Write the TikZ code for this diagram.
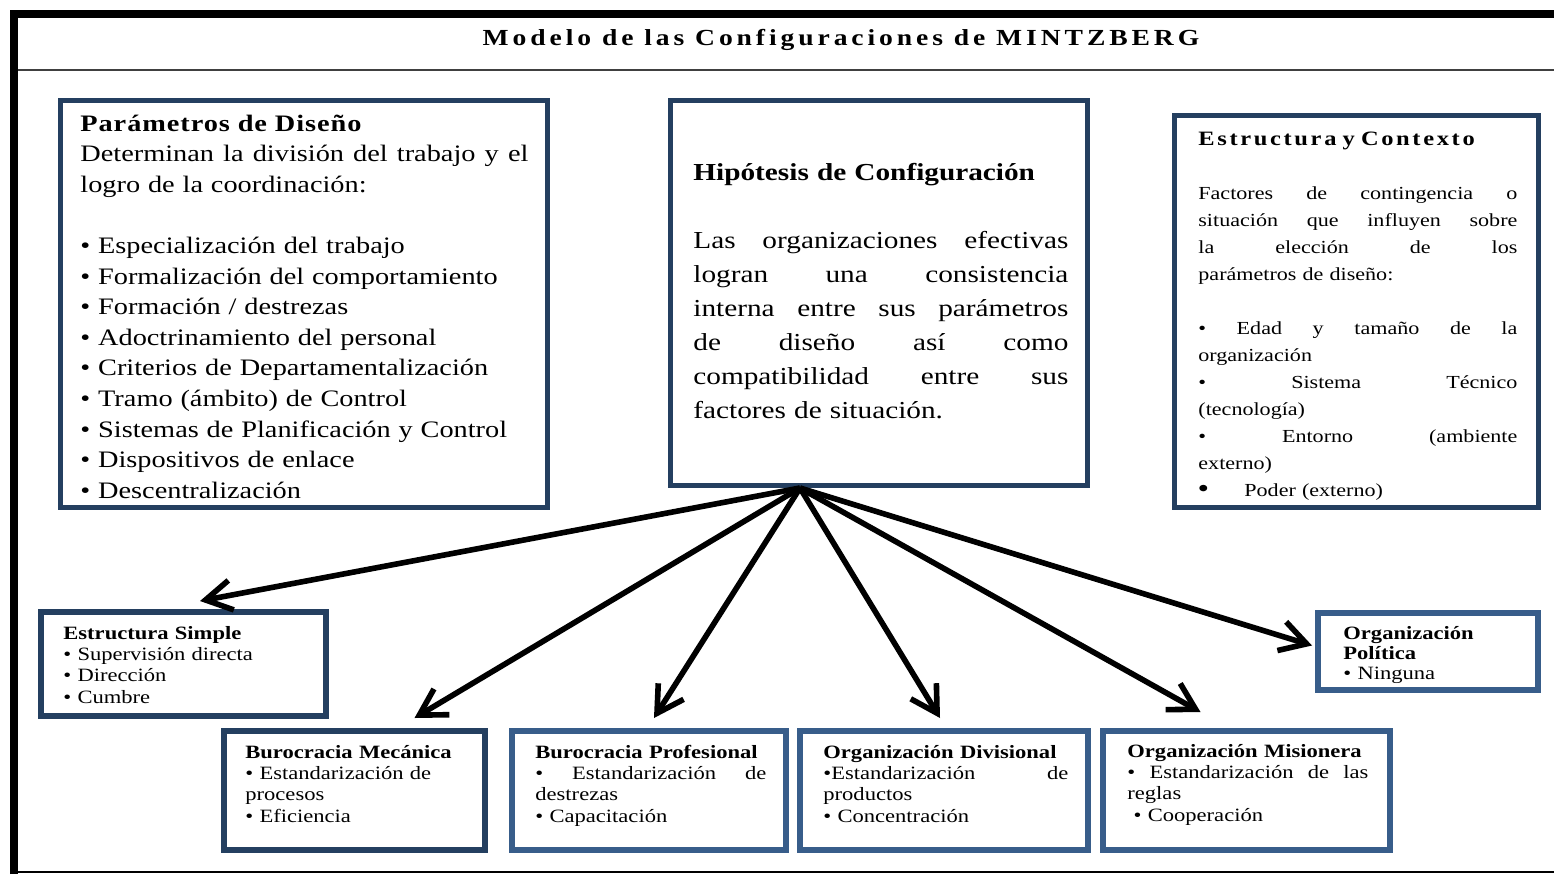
\documentclass[tikz,border=0pt]{standalone}
\usepackage{fontspec}
\setmainfont{Liberation Serif}[FakeStretch=1.2]
\usepackage{xcolor}
\usetikzlibrary{arrows.meta}
\definecolor{navy}{RGB}{36,63,96}
\definecolor{steel}{RGB}{56,93,138}

\begin{document}
\begin{tikzpicture}[x=0.5pt, y=-0.5pt,
	topbox/.style={draw=navy, line width=2.5pt},
	lowbox/.style={draw=#1, line width=3pt},
	txt/.style={anchor=base west, inner sep=0pt, align=left},
	flecha/.style={-{Straight Barb[length=13pt,width=15pt]}, line width=2.8pt}]
		\useasboundingbox (0,0) rectangle (1554,874);

		\draw[line width=4pt] (14,874) -- (14,14) -- (1554,14);
		\draw[line width=1pt, black!75] (18,70) -- (1554,70);
		\draw[line width=1.2pt] (18,872) -- (1554,872);
		\node[font=\fontsize{11.5}{14}\selectfont\bfseries\addfontfeature{LetterSpace=17}] (titulo) at (841,40) {Modelo de las Configuraciones de MINTZBERG};

		\node[topbox, minimum width=243.5pt, minimum height=203.5pt] (param) at (304,304) {};
		\node[txt, text width=224pt, font=\fontsize{11.8}{15.3}\selectfont] (paramtxt) at (80,131) {{\bfseries\addfontfeature{LetterSpace=4}Parámetros de Diseño}\\
			Determinan\hfill la\hfill división\hfill del\hfill trabajo\hfill y\hfill el\\
			logro de la coordinación:\\[15.3pt]
			• Especialización del trabajo\\
			• Formalización del comportamiento\\
			• Formación / destrezas\\
			• Adoctrinamiento del personal\\
			• Criterios de Departamentalización\\
			• Tramo (ámbito) de Control\\
			• Sistemas de Planificación y Control\\
			• Dispositivos de enlace\\
			• Descentralización};

		\node[topbox, minimum width=208.5pt, minimum height=192.5pt] (hipo) at (879,293) {};
		\node[txt, text width=187.5pt, font=\fontsize{12.2}{17}\selectfont] (hipotxt) at (693,180) {\textbf{Hipótesis de Configuración}\\[17pt]
			Las\hfill organizaciones\hfill efectivas\\
			logran\hfill una\hfill consistencia\\
			interna\hfill entre\hfill sus\hfill parámetros\\
			de\hfill diseño\hfill así\hfill como\\
			compatibilidad\hfill entre\hfill sus\\
			factores de situación.};

		\node[topbox, minimum width=182pt, minimum height=196pt] (contexto) at (1356.5,311.5) {};
		\node[txt, text width=159.5pt, font=\fontsize{9.2}{13.5}\selectfont] (contextotxt) at (1198,145) {{\fontsize{10.2}{13.5}\selectfont\bfseries\addfontfeature{LetterSpace=13}Estructura y Contexto}\\[13.5pt]
			Factores\hfill de\hfill contingencia\hfill o\\
			situación\hfill que\hfill influyen\hfill sobre\\
			la\hfill elección\hfill de\hfill los\\
			parámetros de diseño:\\[13.5pt]
			•\hfill Edad\hfill y\hfill tamaño\hfill de\hfill la\\
			organización\\
			•\hfill Sistema\hfill Técnico\\
			(tecnología)\\
			•\hfill Entorno\hfill (ambiente\\
			externo)\\
			\makebox[23pt][l]{\large\textbf{•}}Poder (externo)};

		\node[lowbox=navy, minimum width=142.5pt, minimum height=52pt] (simple) at (183.5,664) {};
		\node[txt, text width=125pt, font=\fontsize{9.4}{10.7}\selectfont] (simpletxt) at (63,639) {\textbf{Estructura Simple}\\
			• Supervisión directa\\
			• Dirección\\
			• Cumbre};

		\node[lowbox=navy, minimum width=130.5pt, minimum height=59.5pt] (mecanica) at (354.5,790.5) {};
		\node[txt, text width=115pt, font=\fontsize{9.4}{10.7}\selectfont] (mecanicatxt) at (245,758) {\textbf{Burocracia Mecánica}\\
			• Estandarización de\\
			procesos\\
			• Eficiencia};

		\node[lowbox=steel, minimum width=137pt, minimum height=59.5pt] (profesional) at (649,790.5) {};
		\node[txt, text width=115.5pt, font=\fontsize{9.4}{10.7}\selectfont] (profesionaltxt) at (535,758) {\textbf{Burocracia Profesional}\\
			•\hfill Estandarización\hfill de\\
			destrezas\\
			• Capacitación};

		\node[lowbox=steel, minimum width=144pt, minimum height=59.5pt] (divisional) at (944,790.5) {};
		\node[txt, text width=122.5pt, font=\fontsize{9.4}{10.7}\selectfont] (divisionaltxt) at (823,758) {\textbf{Organización Divisional}\\
			•Estandarización\hfill de\\
			productos\\
			• Concentración};

		\node[lowbox=steel, minimum width=143.5pt, minimum height=59.5pt] (misionera) at (1246.5,790.5) {};
		\node[txt, text width=120.5pt, font=\fontsize{9.4}{10.7}\selectfont] (misioneratxt) at (1127,757) {\textbf{Organización Misionera}\\
			•\hfill Estandarización\hfill de\hfill las\\
			reglas\\
			\ • Cooperación};

		\node[lowbox=steel, minimum width=110pt, minimum height=38.5pt] (politica) at (1428,651.5) {};
		\node[txt, text width=90pt, font=\fontsize{9.4}{10}\selectfont] (politicatxt) at (1343,639) {\textbf{Organización}\\
			\textbf{Política}\\
			• Ninguna};

		\coordinate (src) at ([xshift=-39.5pt]hipo.south);
		\draw[flecha] (src) -- ([xshift=8.25pt,yshift=4pt]simple.north);
		\draw[flecha] (src) -- ([xshift=30pt,yshift=5pt]mecanica.north);
		\draw[flecha] (src) -- ([xshift=2.5pt,yshift=5pt]profesional.north);
		\draw[flecha] (src) -- ([xshift=-2pt,yshift=5pt]divisional.north);
		\draw[flecha] (src) -- ([xshift=-23pt,yshift=8pt]misionera.north);
		\draw[flecha] (src) -- ([xshift=-1.5pt,yshift=3pt]politica.west);

	\end{tikzpicture}
\end{document}
